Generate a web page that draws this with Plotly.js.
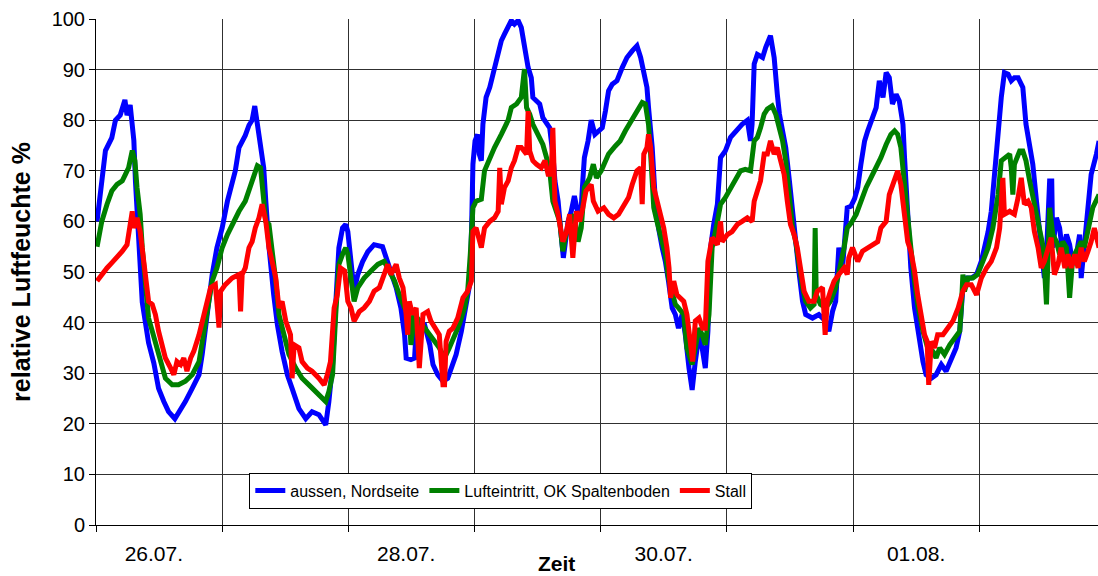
<!DOCTYPE html>
<html>
<head>
<meta charset="utf-8">
<script src="https://cdn.plot.ly/plotly-3.0.1.min.js"></script>
<style>html,body{margin:0;padding:0;background:#fff;}#chart{width:1098px;height:576px;}</style>
</head>
<body>
<div id="chart"></div>
<script>
// Time in hours since 26.07. 00:00, relative humidity in %
const aussen = [[0.2,60],[1.1,69],[1.8,74],[3.0,76.5],[3.7,80],[4.6,81],[5.5,84],[5.9,81],[6.5,83],[6.9,79],[7.2,76],[7.5,68],[8.1,55],[8.8,44],[9.4,40],[10.0,36],[11.0,32],[11.9,27],[12.9,24.4],[13.8,22.4],[15.0,21],[16.1,22.8],[17.0,24.4],[18.3,27],[19.6,29.7],[20.2,33.7],[21.1,41.6],[22.1,49.5],[23.0,54.8],[24.0,58.7],[25.0,64],[25.9,67.3],[26.5,70],[27.2,74.6],[28.4,77],[29.1,79],[29.7,80],[30.2,82.8],[30.7,79],[31.3,74.6],[31.9,70.6],[32.3,64],[32.9,55],[33.8,45.5],[34.5,39.6],[35.4,34.3],[36.4,29.7],[37.3,27],[38.6,23],[39.9,21],[41.1,22.4],[42.4,21.8],[43.7,19.8],[44.3,24.4],[45.0,31.7],[45.6,43.6],[46.2,54.8],[46.9,58.7],[47.5,59.4],[47.9,58],[48.4,53.5],[48.8,48.2],[49.1,46.2],[49.8,49.5],[50.7,52],[51.7,54],[52.9,55.4],[54.5,55],[55.2,52.8],[56.1,49.5],[57.1,46.9],[58.0,42.9],[58.7,37.6],[59.0,33],[59.9,32.7],[60.6,33],[60.9,38.3],[61.6,40.3],[62.5,39.6],[63.5,35.6],[64.1,31.7],[65.0,29.7],[66.0,28.4],[66.9,29],[67.6,31],[68.5,33.7],[69.5,38.3],[70.1,41.6],[70.7,45.5],[71.2,48.2],[71.5,61.4],[71.7,71.3],[72.1,75.9],[72.6,77.2],[72.9,73.3],[73.3,72],[73.6,79.2],[74.2,84.5],[74.9,86.5],[75.2,87.8],[75.8,90.4],[76.5,93],[77.1,95.7],[77.7,97],[78.4,98.3],[79.0,99.7],[79.6,99],[80.3,99.7],[80.9,98.3],[81.5,94.4],[82.2,90.4],[82.8,88.4],[83.1,84.5],[83.8,83.8],[84.4,83.2],[85.0,80.5],[85.7,79.2],[86.3,78.5],[86.9,73.3],[87.3,68],[87.9,64],[88.2,61.4],[88.6,56],[88.9,52.8],[89.2,56],[89.8,60],[90.4,62],[91.0,65],[91.7,61.4],[92.3,62.7],[92.6,68],[92.9,72.6],[93.6,75.9],[94.2,80],[94.9,77.2],[95.5,77.9],[96.3,78.5],[96.9,81.8],[97.5,85.8],[98.2,87.1],[99.1,87.8],[100.1,90.4],[101.0,92.4],[102.0,93.7],[102.9,94.7],[103.6,92.4],[104.2,89.8],[104.8,86.5],[105.1,82.5],[105.8,74.6],[106.4,64],[107.0,58.7],[107.7,54.8],[108.3,52.1],[108.9,48.2],[109.6,42.9],[110.2,41.6],[110.8,38.9],[111.5,41.6],[112.1,37.6],[112.8,31],[113.4,26.7],[114.0,32.3],[114.7,37.6],[115.3,35],[115.9,31],[116.4,38.3],[116.9,54.8],[117.5,59.4],[118.2,63.4],[118.8,72.6],[119.7,73.9],[120.7,76.6],[121.7,77.9],[122.9,79.2],[123.9,80],[124.5,75.9],[124.8,79.2],[125.2,91.1],[125.8,93],[126.8,92.4],[127.4,94.4],[128.3,96.7],[129.0,92.4],[129.3,86.5],[129.6,85.1],[130.0,81.2],[130.6,77.2],[131.2,74.6],[131.9,68],[132.5,61.4],[133.1,56],[133.7,50.2],[134.4,44.2],[135.0,41.6],[136.3,40.9],[137.5,41.6],[138.8,40.3],[139.4,38.3],[140.1,42.2],[140.7,44.2],[141.3,54.8],[142.0,50.8],[142.9,62.7],[143.6,63],[144.3,64.5],[144.9,66.7],[145.5,71.3],[146.2,75.9],[146.8,77.9],[147.7,80.5],[148.4,82.5],[149.0,87.8],[149.7,84.5],[150.3,89.4],[150.9,88.4],[151.5,83.2],[152.2,85.1],[152.8,83.8],[153.5,79.2],[153.8,72.6],[154.4,61.4],[155.0,50.8],[155.7,42.9],[156.3,38.3],[157.3,32.3],[157.9,29.7],[158.9,29],[159.8,29.7],[160.8,31.7],[161.7,30.4],[162.7,33],[163.6,35],[164.3,38.3],[164.9,46.9],[165.6,48.8],[166.5,48.8],[167.5,49.5],[168.4,52.1],[169.0,54.8],[169.7,58],[170.3,62],[170.9,69.3],[171.6,75.9],[172.2,84.5],[172.8,89.4],[173.5,89.1],[174.1,87.8],[174.7,88.4],[175.4,88.4],[176.3,86.5],[176.9,79.2],[177.6,74.6],[178.2,71.3],[178.9,64],[179.8,56],[180.4,48.8],[180.8,53.5],[181.4,68],[181.8,68],[182.0,54.8],[182.7,60.7],[183.3,58.7],[183.9,53.5],[184.6,57.4],[185.2,55.4],[185.8,51.5],[186.5,53.5],[187.1,57.4],[187.4,48.8],[188.0,54.8],[188.7,61.4],[189.3,69.3],[190.3,73.3],[190.8,75.9]];

const lufteintritt = [[0.2,55],[1.1,60],[2.1,63.4],[3.0,66],[4.0,67.3],[5.0,68],[5.6,69.3],[6.2,70.6],[6.9,74],[7.4,72],[7.8,66.7],[8.4,61.4],[8.8,54.8],[9.4,46.2],[10.0,40.9],[10.7,38.3],[11.6,35],[12.3,32.3],[13.2,29],[14.5,27.7],[15.7,27.7],[17.0,28.4],[18.3,29.7],[19.6,32.3],[20.5,37.6],[21.5,44.2],[22.1,48.2],[23.0,50.8],[24.0,54.8],[25.0,57.4],[25.9,59.4],[27.2,62],[28.4,64],[29.4,67.3],[30.0,69.3],[30.7,71],[31.3,70.6],[31.9,64.7],[32.3,60],[32.9,59.4],[33.5,54.8],[34.2,48.2],[34.8,41.6],[35.7,37.6],[36.7,33.7],[38.0,31],[39.2,29],[40.5,27.7],[41.8,26.4],[43.0,25.1],[43.7,24.4],[44.3,26.4],[45.0,29.7],[45.6,41.6],[46.2,51.5],[46.9,53.5],[47.5,54.8],[47.9,53.5],[48.5,49.5],[49.1,44.2],[49.8,46.9],[51.0,48.8],[52.3,50.2],[53.6,51.5],[54.8,52.1],[55.8,50.2],[56.8,48.2],[57.7,45.5],[58.7,42.9],[59.6,41.6],[59.9,35.6],[60.6,41.6],[61.6,40.3],[62.5,38.9],[63.5,37.6],[64.4,36.3],[65.3,35],[66.3,33],[67.2,35],[68.2,37.6],[69.1,39.6],[70.1,42.9],[70.7,46.2],[71.2,53.5],[71.7,62.7],[72.3,64],[73.3,64.4],[73.9,70],[74.9,72.6],[75.8,74.6],[77.1,77.2],[78.4,80],[79.0,82.5],[80.0,83.2],[80.9,84.5],[81.5,90.1],[81.9,82.5],[82.5,81.2],[83.1,79.2],[84.1,77.2],[85.0,75.2],[85.7,72.6],[86.3,70],[86.9,64],[87.6,62],[88.2,60],[88.8,54.1],[89.5,58],[90.4,60],[91.0,61.4],[91.7,56],[92.3,58.7],[92.9,66.7],[93.9,68.6],[94.6,71.3],[95.2,68.6],[96.1,70],[96.6,71.3],[97.5,73.3],[98.8,74.9],[99.7,75.9],[100.7,77.9],[102.0,80],[102.9,81.5],[103.9,83.5],[104.5,83.2],[105.1,79.2],[105.5,73.3],[105.8,68],[106.1,62.7],[106.7,60],[107.7,56],[108.3,53.5],[108.9,48.8],[109.6,45.5],[110.2,43.6],[110.8,42.9],[111.8,41.6],[112.4,35],[113.4,31.7],[114.0,35],[114.7,38.9],[115.3,37.6],[115.9,35.6],[116.6,41.6],[117.2,54.8],[118.2,60],[118.8,63.4],[119.7,64.7],[120.7,66.7],[121.7,68.6],[122.6,70],[123.5,70.3],[124.5,70],[125.2,75.9],[125.8,76.6],[126.4,78.5],[127.1,81.2],[127.7,82.2],[128.6,82.8],[129.3,81.2],[129.9,78.5],[130.6,75.9],[131.2,72],[131.8,65.3],[132.5,58.7],[133.1,56],[133.7,51.5],[134.4,46.9],[135.0,44.2],[135.9,42.9],[136.6,43.6],[136.8,58.7],[137.0,45.5],[137.8,43.6],[138.8,42.9],[139.7,44.2],[140.7,46.9],[141.6,50.8],[142.3,54.8],[142.9,58.7],[143.6,59.6],[144.6,61.4],[145.5,64],[146.5,66.7],[147.4,68.6],[148.4,70.6],[149.3,72.6],[150.3,75.2],[151.2,77.2],[151.9,77.9],[152.5,77.2],[153.1,74.6],[153.8,66.7],[154.4,60],[155.0,54.8],[155.7,48.2],[156.3,43.6],[157.3,38.3],[158.2,35],[159.2,34.3],[159.8,33],[160.5,35],[161.4,33.7],[162.4,35.6],[163.3,36.9],[164.3,38.3],[164.6,42.9],[164.9,49.5],[165.2,46.2],[165.9,48.8],[166.8,48.8],[167.7,49.5],[168.7,52.1],[169.7,54.8],[170.6,58.7],[171.6,65.3],[172.2,72],[172.8,72.6],[173.8,73.3],[174.1,70.6],[174.4,65.3],[174.7,71.3],[175.7,73.9],[176.3,73.9],[176.9,72],[177.6,68],[178.2,64.7],[178.9,61.4],[179.5,57.4],[180.2,54.8],[180.8,43.6],[181.4,62.7],[182.0,57.4],[182.7,56],[183.3,53.5],[183.9,56],[184.6,54.8],[185.2,44.9],[185.8,52.8],[186.8,54.8],[187.4,56],[188.0,54.8],[188.7,58.7],[189.6,62.7],[190.8,65.3]];

const stall = [[0.2,48.2],[1.1,49.5],[2.1,50.8],[3.0,51.8],[4.0,52.8],[5.0,54.1],[5.9,55.4],[6.5,58.7],[6.9,62],[7.2,58.7],[7.8,60.7],[8.4,58],[9.1,52.1],[9.7,48.2],[10.0,44.2],[10.7,43.6],[11.3,41.6],[11.9,38.3],[12.6,35.6],[13.2,33],[14.2,31],[14.8,29.7],[15.4,32.3],[16.1,31.7],[16.7,33],[17.3,30.4],[18.0,33],[18.6,34.3],[19.6,37.6],[20.5,41.6],[21.1,44.2],[21.8,46.9],[22.7,47.5],[23.4,39],[23.7,46.2],[24.6,47.5],[25.9,48.8],[27.2,49.5],[27.5,42.2],[27.8,49.5],[28.4,50.8],[29.1,54.8],[29.7,56],[30.3,58.7],[31.0,60.7],[31.6,63.4],[32.3,60],[32.9,54.8],[33.5,52.1],[34.2,48.8],[34.8,42.9],[35.4,44.2],[36.1,40.3],[37.0,37.6],[37.3,29],[37.7,35.6],[38.6,35],[39.2,32.3],[40.2,31],[41.1,30.4],[42.4,29],[43.4,27.7],[44.0,29.7],[44.6,32.3],[45.3,42.9],[45.9,45.5],[46.5,50.8],[47.3,50.2],[47.9,44.2],[48.5,42.9],[49.1,40.3],[50.1,42.2],[51.0,42.9],[52.0,44.2],[52.9,46.2],[53.9,46.9],[54.8,49.5],[55.5,51.5],[56.1,49.5],[57.1,51.5],[57.7,48.8],[58.4,46.9],[59.0,41.6],[59.3,37.6],[59.6,44.2],[60.2,41.6],[60.9,42.9],[61.5,31],[62.2,41.6],[63.1,42.2],[63.7,40.3],[64.4,38.9],[65.3,37.6],[66.0,27.7],[66.3,27.7],[66.6,36.3],[67.2,38.3],[67.9,38.9],[68.8,40.9],[69.8,44.9],[70.7,46.2],[71.4,48.2],[71.7,58],[72.3,58.7],[73.0,56],[73.3,54.8],[73.9,58.7],[74.9,60],[75.8,60.7],[76.5,62],[76.8,70.6],[77.1,63.4],[77.7,66.7],[78.4,68],[79.0,70.6],[79.6,72],[80.3,74.6],[80.9,74.6],[81.9,73.3],[82.2,81.8],[82.5,73.9],[83.1,72],[83.8,71.3],[84.7,70.6],[85.4,72],[86.0,69.3],[86.6,69.3],[86.9,78.5],[87.3,64],[87.9,61.4],[88.8,56],[89.5,58],[90.1,61.4],[90.7,52.8],[91.4,62],[92.0,60],[92.6,62.7],[93.2,66],[94.2,67.3],[94.6,64],[95.5,62],[96.6,62.7],[97.5,61.4],[98.5,60.7],[99.4,61.4],[100.4,63.4],[101.3,64.7],[102.0,67.3],[102.9,70],[103.6,70.6],[103.9,63.4],[104.2,73.3],[104.8,74.6],[105.1,77.2],[105.5,74.6],[106.1,66.7],[106.7,64],[107.4,61.4],[108.0,58.7],[108.6,54.8],[109.0,50.8],[109.3,44.9],[109.9,48.2],[110.5,45.5],[111.2,44.9],[111.8,44.2],[112.4,41.6],[113.1,35],[113.5,32.3],[114.0,40.3],[114.7,40.9],[115.4,38.9],[115.9,38.9],[116.4,52.1],[117.2,56.8],[118.2,55.4],[118.8,60],[119.1,56],[120.1,57.4],[121.0,58],[122.0,59.4],[122.9,60],[123.9,60.7],[124.8,60],[125.2,64],[125.8,66],[126.4,68],[127.1,73.3],[127.7,73.3],[128.3,75.9],[129.0,73.3],[129.6,74.6],[130.3,72],[130.9,69.3],[131.5,64],[132.1,59.4],[132.8,57.4],[133.4,54.8],[134.0,50.8],[134.7,46.2],[135.6,44.2],[136.6,44.2],[137.2,46.2],[138.2,46.9],[138.7,37.6],[139.1,44.2],[139.7,46.2],[140.4,48.2],[141.3,49.5],[142.3,50.8],[142.9,49.5],[143.2,52.8],[143.9,54.8],[144.5,53.5],[144.9,52.1],[145.8,54.1],[146.8,54.8],[147.7,55.4],[148.7,56],[149.3,58.7],[150.3,60],[150.9,65.3],[151.5,67.3],[152.5,70],[153.1,67.3],[153.8,61.4],[154.4,56],[155.0,54.1],[155.7,50.2],[156.3,45.5],[156.9,41.6],[157.6,37.6],[158.1,36.3],[158.4,27.7],[158.9,36.3],[159.5,35],[160.1,37.6],[161.1,37.6],[162.0,38.9],[163.0,40.3],[164.0,42.9],[164.9,46.2],[165.6,47.5],[166.5,47.5],[167.5,45.5],[168.4,48.8],[169.4,50.8],[170.3,52.1],[171.3,54.8],[171.9,58.7],[172.5,68.6],[172.8,61.4],[173.8,62],[174.7,61.4],[175.4,64.7],[176.0,68.6],[176.6,63.4],[177.3,64],[177.9,62.7],[178.5,58],[179.2,54.8],[179.8,50.8],[180.4,52.1],[181.1,54.8],[181.7,56.8],[182.3,49.5],[183.0,51.5],[183.6,54.8],[184.3,50.8],[184.9,53.5],[185.5,50.8],[186.2,53.5],[186.8,50.8],[187.4,54.8],[188.0,52.1],[188.7,54.1],[189.3,56],[189.9,58.7],[190.8,54.8]];

const seriesNames = ['aussen, Nordseite', 'Lufteintritt, OK Spaltenboden', 'Stall'];
const seriesColors = ['#0000FF', '#008000', '#FF0000'];
const dayLabels = ['26.07.', '28.07.', '30.07.', '01.08.'];
const dayLabelHours = [11, 59, 108, 156];
const rangeHours = [0, 190.6];

function toDate(h) {
  const d = new Date(Date.UTC(2008, 6, 26) + h * 3600000);
  return d.toISOString().replace('T', ' ').slice(0, 19);
}

const FONT = 'Liberation Sans, Arial, sans-serif';
const allSeries = [aussen, lufteintritt, stall];
const traces = allSeries.map((s, i) => ({
  type: 'scatter', mode: 'lines', name: seriesNames[i],
  x: s.map(p => toDate(p[0])), y: s.map(p => p[1]),
  line: {color: seriesColors[i], width: 5},
  xaxis: i === 2 ? 'x2' : 'x', yaxis: 'y'
}));

const xr = rangeHours.map(toDate);
const layout = {
  width: 1098, height: 576,
  margin: {l: 96, r: 0, t: 19, b: 51, pad: 0},
  paper_bgcolor: '#fff', plot_bgcolor: '#fff',
  font: {family: FONT, color: '#000'},
  showlegend: true,
  xaxis: {
    type: 'date', range: xr, tickmode: 'linear', tick0: xr[0], dtick: 86400000,
    showticklabels: false, ticks: 'outside', ticklen: 6, tickcolor: '#000', tickwidth: 1,
    showgrid: true, gridcolor: '#303030', gridwidth: 1,
    showline: true, linecolor: '#000', linewidth: 1, zeroline: false
  },
  xaxis2: {
    type: 'date', overlaying: 'x', anchor: 'y', side: 'bottom', range: xr,
    tickmode: 'array', tickvals: dayLabelHours.map(toDate), ticktext: dayLabels,
    showgrid: false, ticks: '', showline: false, zeroline: false,
    tickfont: {size: 21, family: FONT, color: '#000'}, ticklabelstandoff: 14
  },
  yaxis: {
    range: [0, 100], tickmode: 'linear', tick0: 0, dtick: 10,
    ticks: 'outside', ticklen: 6, tickcolor: '#000',
    showgrid: true, gridcolor: '#303030', gridwidth: 1,
    showline: true, linecolor: '#000', linewidth: 1, zeroline: false,
    tickfont: {size: 20, family: FONT, color: '#000'},
    title: {text: '<b>relative Luftfeuchte %</b>', font: {size: 25, family: FONT, color: '#000'}, standoff: 13}
  },
  legend: {
    orientation: 'h', x: 0.404, xanchor: 'center', y: 0.068, yanchor: 'middle',
    bgcolor: '#fff', bordercolor: '#000', borderwidth: 1,
    font: {size: 16, family: FONT, color: '#000'}
  },
  annotations: [{
    text: '<b>Zeit</b>', xref: 'paper', yref: 'paper', x: 0.46, y: -0.076,
    xanchor: 'center', yanchor: 'middle', showarrow: false,
    font: {size: 21, family: FONT, color: '#000'}
  }]
};

Plotly.newPlot('chart', traces, layout, {staticPlot: true, displayModeBar: false});
</script>
</body>
</html>
